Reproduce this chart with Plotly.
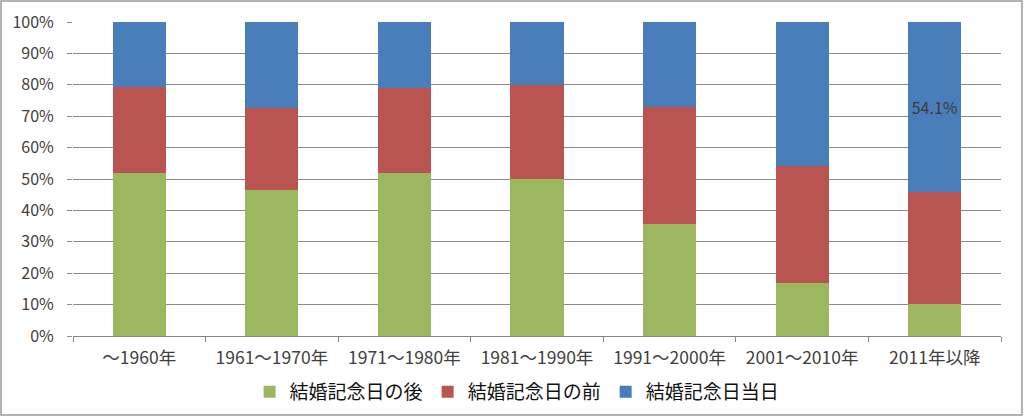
import plotly.graph_objects as go

categories = ["～1960年", "1961～1970年", "1971～1980年", "1981～1990年",
              "1991～2000年", "2001～2010年", "2011年以降"]
after = [51.9, 46.4, 51.9, 50.1, 35.7, 16.8, 10.2]
before = [27.4, 26.1, 27.2, 29.9, 37.3, 37.4, 35.7]
onday = [20.7, 27.5, 20.9, 20.0, 27.0, 45.8, 54.1]
series_names = ["結婚記念日の後", "結婚記念日の前", "結婚記念日当日"]
colors = ["#9BB75F", "#B95451", "#4A7EBB"]
label_index = 6

W, H = 1024, 417
ML, MR, MT, MB = 73, 23, 22, 81
FONT = "Noto Sans CJK JP"

fig = go.Figure()
for name, vals, col in zip(series_names, [after, before, onday], colors):
    is_last = name == series_names[2]
    fig.add_trace(go.Bar(
        x=categories, y=vals, name=name, marker_color=col,
        marker_line_width=0,
        text=[f"{v}%" if (is_last and i == label_index) else "" for i, v in enumerate(vals)],
        textposition="inside", insidetextanchor="middle", textangle=0,
        constraintext="none",
        textfont=dict(size=16, color="#3a3a3a", family=FONT),
        hoverinfo="skip",
    ))

pw = W - ML - MR
ph = H - MT - MB
fig.update_layout(
    barmode="stack", bargap=0.6,
    width=W, height=H,
    margin=dict(l=ML, r=MR, t=MT, b=MB, pad=0, autoexpand=False),
    paper_bgcolor="white", plot_bgcolor="white",
    font=dict(family=FONT, size=16, color="#404040"),
    showlegend=True,
    legend=dict(orientation="h", xref="container", yref="container",
                x=0.505, xanchor="center", y=0.06, yanchor="middle",
                font=dict(size=19, color="#111111", family=FONT),
                itemwidth=30, traceorder="normal", tracegroupgap=0,
                bgcolor="rgba(0,0,0,0)"),
    xaxis=dict(type="category", showgrid=False, showline=True,
               linecolor="#868686", linewidth=1, automargin=False,
               ticks="outside", tickson="boundaries", ticklen=5,
               tickcolor="#868686", ticklabelstandoff=6,
               tickfont=dict(size=17.5, color="#404040", family=FONT)),
    yaxis=dict(range=[0, 100], dtick=10, ticksuffix="%", automargin=False,
               showgrid=True, gridcolor="#8C8C8C", gridwidth=1,
               showline=False, zeroline=False,
               ticks="outside", ticklen=5, tickcolor="#8C8C8C",
               ticklabelstandoff=10,
               tickfont=dict(size=16, color="#404040", family=FONT)),
)

# outer chart border
fig.add_shape(type="rect", xref="paper", yref="paper",
              x0=(1 - ML) / pw, x1=(W - 2 - ML) / pw,
              y0=-(H - 2 - MT - ph) / ph, y1=(MT - 1) / ph + 1,
              line=dict(color="#9A9A9A", width=1.5), fillcolor="rgba(0,0,0,0)",
              layer="below")

fig.write_html("out.html", config={"displayModeBar": False},
               post_script="document.body.style.margin='0';document.body.style.overflow='hidden';")
